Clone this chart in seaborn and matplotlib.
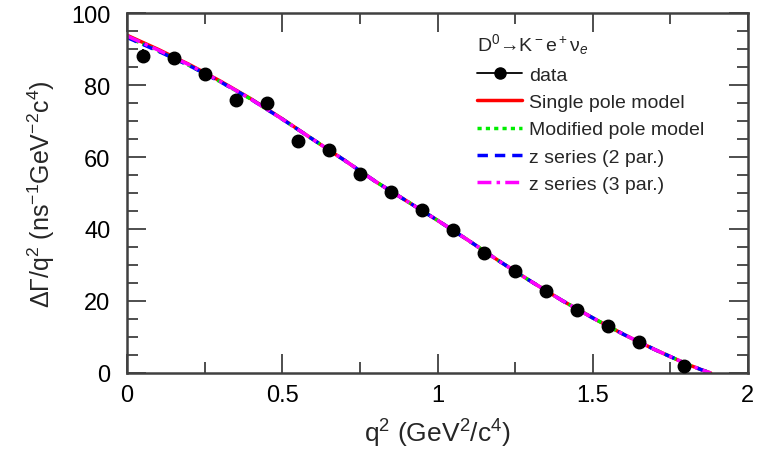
import numpy as np
import pandas as pd
import seaborn as sns
import matplotlib.pyplot as plt
from matplotlib.lines import Line2D
from matplotlib.ticker import MultipleLocator

# measured points
q2_data = [0.05, 0.15, 0.25, 0.35, 0.45, 0.55, 0.65, 0.75, 0.85, 0.95,
           1.05, 1.15, 1.25, 1.35, 1.45, 1.55, 1.65, 1.795]
rate_data = [88.1, 87.4, 83.0, 75.8, 74.9, 64.5, 62.0, 55.3, 50.4, 45.2,
             39.8, 33.3, 28.2, 22.9, 17.4, 13.0, 8.5, 2.0]
rate_err = [1.9, 1.6, 1.5, 1.4, 1.5, 1.2, 1.2, 1.1, 1.0, 1.0,
            0.9, 0.9, 0.8, 0.8, 0.7, 0.7, 0.6, 0.5]

# fitted curves
q2_fit = [0.0, 0.1, 0.2, 0.3, 0.4, 0.5, 0.6, 0.7, 0.8, 0.9, 1.0, 1.1, 1.2,
          1.3, 1.4, 1.5, 1.6, 1.7, 1.8, 1.85, 1.88]
single_pole = [93.8, 89.9, 85.7, 81.1, 76.1, 70.6, 64.8, 59.1, 53.2, 47.8, 42.4,
               36.8, 31.0, 25.5, 20.2, 15.3, 10.7, 6.5, 2.6, 0.9, 0.0]
modified_pole = [93.3, 89.5, 85.4, 80.9, 76.0, 70.5, 64.8, 59.1, 53.2, 47.8, 42.4,
                 36.8, 31.0, 25.5, 20.2, 15.3, 10.7, 6.5, 2.6, 0.9, 0.0]
z_series_2 = [93.2, 89.4, 85.4, 80.9, 76.0, 70.5, 64.8, 59.1, 53.2, 47.8, 42.4,
              36.8, 31.0, 25.5, 20.2, 15.3, 10.7, 6.5, 2.6, 0.9, 0.0]
z_series_3 = [93.6, 89.7, 85.6, 81.0, 76.0, 70.5, 64.8, 59.1, 53.2, 47.8, 42.4,
              36.8, 31.0, 25.5, 20.2, 15.3, 10.7, 6.5, 2.6, 0.9, 0.0]

sns.set_style('ticks')
plt.rcParams['font.family'] = ['Liberation Sans', 'DejaVu Sans']
plt.rcParams['mathtext.fontset'] = 'custom'
plt.rcParams['mathtext.rm'] = 'Liberation Sans'
plt.rcParams['mathtext.it'] = 'Liberation Sans:italic'

fig = plt.figure(figsize=(7.57, 4.52), dpi=100)
ax = fig.add_axes([0.168, 0.1726, 0.82, 0.7964])

fits = pd.DataFrame({'q2': q2_fit, 'single': single_pole, 'modified': modified_pole,
                     'z2': z_series_2, 'z3': z_series_3})
sns.lineplot(data=fits, x='q2', y='single', color='red', lw=2.5, ax=ax,
             label='Single pole model')
sns.lineplot(data=fits, x='q2', y='modified', color='#00ee00', lw=2.5, ls=(0, (1.2, 1.2)),
             ax=ax, label='Modified pole model')
sns.lineplot(data=fits, x='q2', y='z2', color='blue', lw=2.5, ls=(0, (3, 2)), ax=ax,
             label='z series (2 par.)')
sns.lineplot(data=fits, x='q2', y='z3', color='magenta', lw=2.5, ls=(0, (4, 1.5, 1, 1.5)),
             ax=ax, label='z series (3 par.)')
ax.errorbar(q2_data, rate_data, yerr=rate_err, fmt='o', color='black', ms=9,
            elinewidth=1.3, capsize=0, zorder=5)

ax.set_xlim(0, 2)
ax.set_ylim(0, 100)
ax.xaxis.set_major_locator(MultipleLocator(0.5))
ax.xaxis.set_minor_locator(MultipleLocator(0.25))
ax.yaxis.set_major_locator(MultipleLocator(20))
ax.yaxis.set_minor_locator(MultipleLocator(5))
ax.xaxis.set_major_formatter(plt.FuncFormatter(lambda v, p: f'{v:g}'))
ax.tick_params(which='both', direction='in', top=True, right=True, colors='#404040',
               labelcolor='black', labelsize=17, width=1.3)
ax.tick_params(axis='y', pad=12)
ax.tick_params(axis='x', pad=8)
ax.tick_params(which='major', length=14)
ax.tick_params(which='minor', length=8)
for s in ax.spines.values():
    s.set_color('#404040')
    s.set_linewidth(1.8)

ax.set_xlabel(r'q$^2$ (GeV$^2$/c$^4$)', fontsize=19, labelpad=8)
ax.set_ylabel(r'$\Delta\Gamma$/q$^2$ (ns$^{-1}$GeV$^{-2}$c$^4$)', fontsize=18, labelpad=10)

handles, labels = ax.get_legend_handles_labels()
data_handle = Line2D([], [], color='black', marker='o', ms=8, lw=1.3)
leg = ax.legend([data_handle] + handles, ['data'] + labels,
                title='D$^0$→K$^-$e$^+$ν$_e$', loc='upper left',
                bbox_to_anchor=(0.536, 0.997), frameon=False, fontsize=14,
                title_fontsize=14, handlelength=2.3, labelspacing=0.5, handletextpad=0.35)
leg._legend_box.align = 'left'

fig.savefig('out.png', dpi=100)
